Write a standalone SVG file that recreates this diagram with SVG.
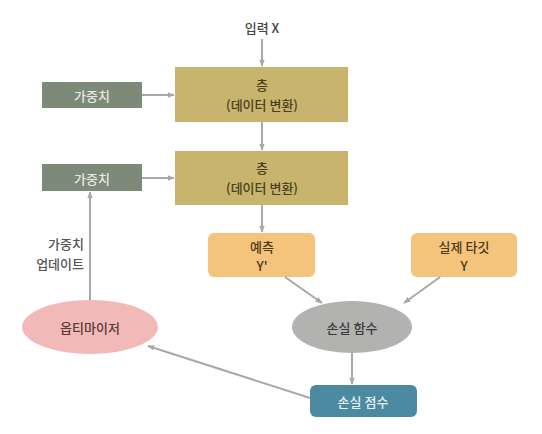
<svg xmlns="http://www.w3.org/2000/svg" width="542" height="434" viewBox="0 0 542 434">
<defs>
<marker id="ah" viewBox="0 0 10 10" refX="9" refY="5" markerWidth="7" markerHeight="7" orient="auto-start-reverse" markerUnits="userSpaceOnUse">
<path d="M0,1 L10,5 L0,9 z" fill="#a8a8a8"/>
</marker>
<style>
text{font-family:"Noto Sans CJK KR","Noto Sans",sans-serif;font-size:13px;font-weight:500;text-anchor:middle;dominant-baseline:central}
.w rect{fill:#7e8a79}
.w text{fill:#e6e8e2}
.l rect{fill:#c8b46c}
.l text{fill:#4a4020}
.o rect{fill:#f5c47c}
.o text{fill:#4a3a1a}
.c line,.c path{stroke:#a8a8a8;stroke-width:2;fill:none;marker-end:url(#ah)}
</style>
</defs>
<rect width="542" height="434" fill="#ffffff"/>
<g id="input"><text x="262" y="27" fill="#444">입력 X</text></g>
<g id="weight1" class="w"><rect x="42" y="82" width="100" height="26"/><text x="92" y="95">가중치</text></g>
<g id="weight2" class="w"><rect x="42" y="164" width="100" height="27"/><text x="92" y="178">가중치</text></g>
<g id="layer1" class="l"><rect x="175" y="67" width="173" height="55"/><text x="262" y="84">층</text><text x="262" y="104">(데이터 변환)</text></g>
<g id="layer2" class="l"><rect x="175" y="151" width="173" height="54"/><text x="262" y="167">층</text><text x="262" y="187">(데이터 변환)</text></g>
<g id="pred" class="o"><rect x="208" y="233" width="107" height="44" rx="6"/><text x="262" y="246">예측</text><text x="262" y="265">Y'</text></g>
<g id="target" class="o"><rect x="411" y="233" width="106" height="44" rx="6"/><text x="464" y="246">실제 타깃</text><text x="464" y="265">Y</text></g>
<g id="lossfn"><ellipse cx="352" cy="327" rx="60" ry="26" fill="#b2b2b0"/><text x="352" y="327" fill="#3a3a3a">손실 함수</text></g>
<g id="optimizer"><ellipse cx="90" cy="327" rx="68" ry="27" fill="#f2b9b9"/><text x="90" y="327" fill="#5a3a3a">옵티마이저</text></g>
<g id="score"><rect x="310" y="385" width="107" height="32" rx="6" fill="#4b8aa0"/><text x="363" y="401" fill="#e8f2f5">손실 점수</text></g>
<g id="update-label"><text x="84" y="243" fill="#555" style="text-anchor:end">가중치</text><text x="84" y="263" fill="#555" style="text-anchor:end">업데이트</text></g>
<g id="connectors" class="c">
<line x1="262" y1="39" x2="262" y2="66"/>
<line x1="142" y1="95" x2="174" y2="95"/>
<line x1="262" y1="122" x2="262" y2="150"/>
<line x1="142" y1="178" x2="174" y2="178"/>
<line x1="262" y1="205" x2="262" y2="232"/>
<line x1="285" y1="277" x2="322" y2="303"/>
<line x1="440" y1="277" x2="404" y2="303"/>
<line x1="352" y1="353" x2="352" y2="384"/>
<line x1="310" y1="398" x2="148" y2="346"/>
<line x1="90" y1="300" x2="90" y2="192"/>
</g>
</svg>
